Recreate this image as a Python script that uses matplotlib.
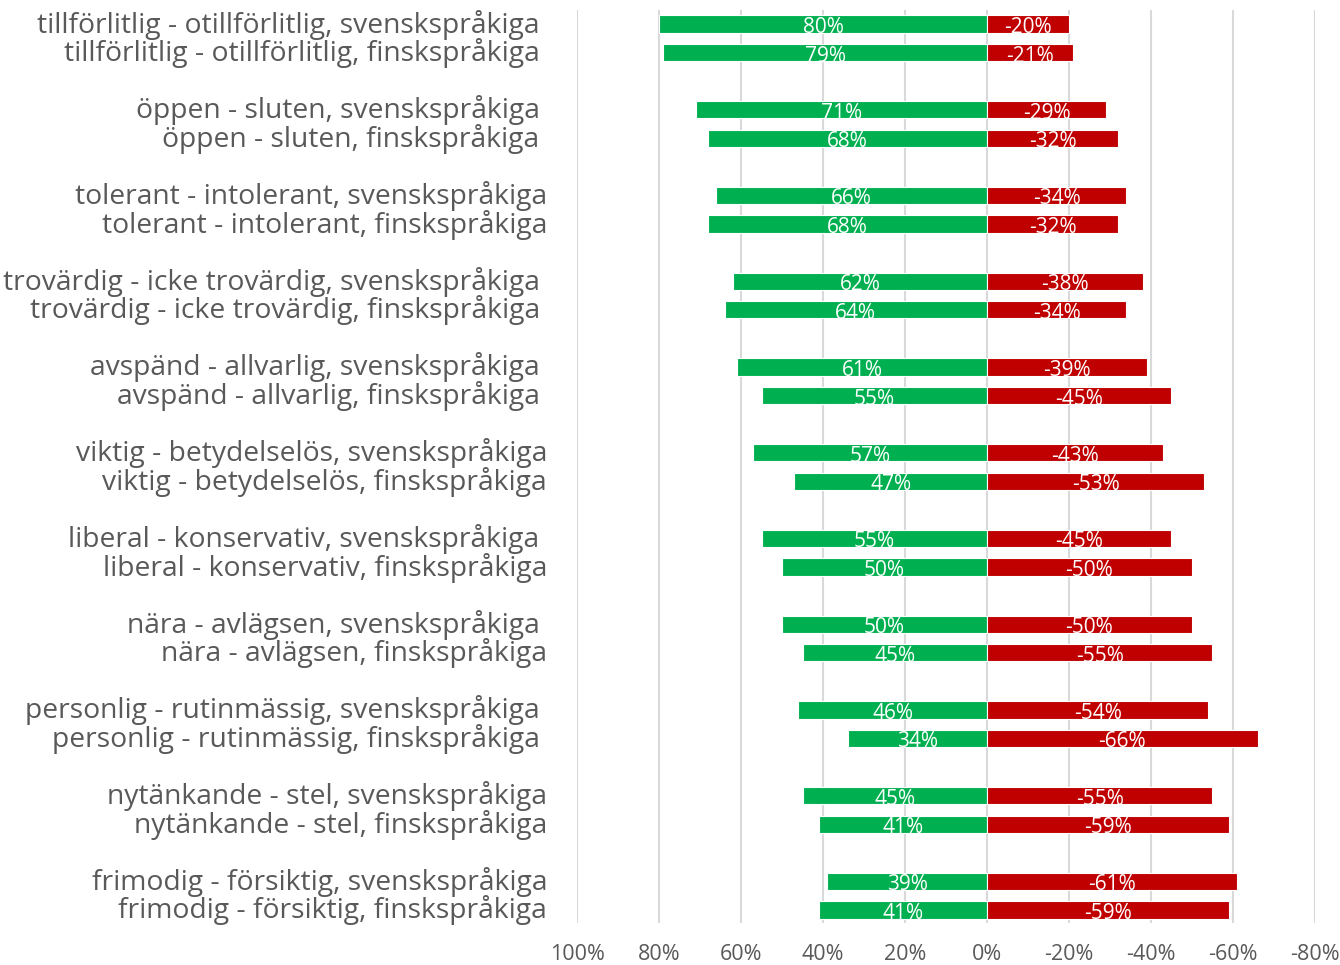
import matplotlib.pyplot as plt
import matplotlib.transforms as mtransforms
import numpy as np

# row labels as shown (some have a trailing space in the source)
labels = [
    'tillförlitlig - otillförlitlig, svenskspråkiga ',
    'tillförlitlig - otillförlitlig, finskspråkiga ',
    'öppen - sluten, svenskspråkiga ',
    'öppen - sluten, finskspråkiga ',
    'tolerant - intolerant, svenskspråkiga',
    'tolerant - intolerant, finskspråkiga',
    'trovärdig - icke trovärdig, svenskspråkiga ',
    'trovärdig - icke trovärdig, finskspråkiga ',
    'avspänd - allvarlig, svenskspråkiga ',
    'avspänd - allvarlig, finskspråkiga ',
    'viktig - betydelselös, svenskspråkiga',
    'viktig - betydelselös, finskspråkiga',
    'liberal - konservativ, svenskspråkiga ',
    'liberal - konservativ, finskspråkiga',
    'nära - avlägsen, svenskspråkiga ',
    'nära - avlägsen, finskspråkiga',
    'personlig - rutinmässig, svenskspråkiga ',
    'personlig - rutinmässig, finskspråkiga ',
    'nytänkande - stel, svenskspråkiga',
    'nytänkande - stel, finskspråkiga',
    'frimodig - försiktig, svenskspråkiga',
    'frimodig - försiktig, finskspråkiga',
]
positive = [80, 79, 71, 68, 66, 68, 62, 64, 61, 55, 57, 47,
            55, 50, 50, 45, 46, 34, 45, 41, 39, 41]
negative = [-20, -21, -29, -32, -34, -32, -38, -34, -39, -45, -43, -53,
            -45, -50, -50, -55, -54, -66, -55, -59, -61, -59]
x_ticks = [100, 80, 60, 40, 20, 0, -20, -40, -60, -80]

GREEN = '#00B050'
RED = '#C00000'
GREY = '#595959'

plt.rcParams['font.family'] = ['Open Sans', 'DejaVu Sans']

# two rows per pair, then an empty slot
ypos = np.array([3 * (i // 2) + (i % 2) for i in range(len(labels))])

fig = plt.figure(figsize=(13.4, 9.65), dpi=100)
ax = fig.add_axes([577 / 1340, 1 - 923 / 965, (1315 - 577) / 1340, 913 / 965])

b1 = ax.barh(ypos, positive, height=0.6, color=GREEN,
             edgecolor='white', linewidth=0.8, zorder=3)
b2 = ax.barh(ypos, negative, height=0.6, color=RED,
             edgecolor='white', linewidth=0.8, zorder=3)
t1 = ax.bar_label(b1, labels=[f'{v}%' for v in positive], label_type='center',
                  color='white', fontsize=15)
t2 = ax.bar_label(b2, labels=[f'{v}%' for v in negative], label_type='center',
                  color='white', fontsize=15)
for t in t1 + t2:
    t.set_position((0, -2.5))  # sits a little low in the bars

ax.set_xlim(100, -80)
ax.set_ylim(31 + 13 / 28.58, -14 / 28.58)
ax.set_xticks(x_ticks)
ax.set_xticklabels([f'{v}%' for v in x_ticks])
ax.set_yticks(ypos)
ax.set_yticklabels(labels)

ax.grid(axis='x', color='#D9D9D9', linewidth=1.5, zorder=0)
for s in ax.spines.values():
    s.set_visible(False)
ax.tick_params(axis='y', length=0, pad=21.6, labelsize=20.3, labelcolor=GREY)
ax.tick_params(axis='x', length=0, pad=15, labelsize=15.5, labelcolor=GREY)

shift = mtransforms.ScaledTranslation(0, 3 / 100, fig.dpi_scale_trans)
for lab in ax.get_yticklabels():
    lab.set_transform(lab.get_transform() + shift)

fig.savefig('out.png', dpi=100)
